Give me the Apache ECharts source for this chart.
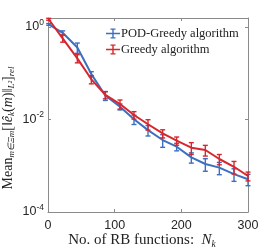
<!DOCTYPE html>
<html><head><meta charset="utf-8">
<script src="https://cdn.jsdelivr.net/npm/echarts@6/dist/echarts.min.js"></script>
<style>html,body{margin:0;padding:0;background:#fff}#c{width:274px;height:249px}</style>
</head><body><div id="c"></div>
<script>
const nRB = [1, 22, 44, 65, 86, 108, 129, 150, 172, 193, 215, 236, 257, 279, 300];
const podGreedy = [1.14, 0.75, 0.36, 0.096, 0.033, 0.0189, 0.0101, 0.0059, 0.0036, 0.00258, 0.00152, 0.00109, 0.00091, 0.00066, 0.00051];
const podGreedyErr = [0.05, 0.075, 0.09, 0.012, 0.0072, 0.0028, 0.0023, 0.0015, 0.0011, 0.00048, 0.00038, 0.00033, 0.00027, 0.0002, 0.00014];
const greedy = [1.47, 0.57, 0.21, 0.074, 0.034, 0.0216, 0.0125, 0.0079, 0.0050, 0.00348, 0.00246, 0.00219, 0.0014, 0.00095, 0.0006];
const greedyErr = [0.07, 0.10, 0.042, 0.015, 0.006, 0.0048, 0.0023, 0.002, 0.001, 0.0007, 0.0007, 0.00057, 0.00035, 0.00029, 0.00013];
const yTickExps = [-4, -2, 0];
const xTicks = [0, 100, 200, 300];

const BLUE = '#3c6fc0', RED = '#d7262d';
const L = v => Math.log10(v);
const lineData = vals => nRB.map((x, i) => [x, L(vals[i])]);
const errData = (vals, errs) => nRB.map((x, i) => [x, L(vals[i] - errs[i]), L(vals[i] + errs[i])]);
function errItem(color) {
  return function (params, api) {
    const x = api.value(0);
    const a = api.coord([x, api.value(1)]);
    const b = api.coord([x, api.value(2)]);
    const w = 2.5;
    const st = { stroke: color, lineWidth: 1.4 };
    return { type: 'group', children: [
      { type: 'line', shape: { x1: a[0], y1: a[1], x2: b[0], y2: b[1] }, style: st },
      { type: 'line', shape: { x1: a[0] - w, y1: a[1], x2: a[0] + w, y2: a[1] }, style: st },
      { type: 'line', shape: { x1: b[0] - w, y1: b[1], x2: b[0] + w, y2: b[1] }, style: st }
    ]};
  };
}
const serif = 'Liberation Serif';
const sans = 'Liberation Sans';
const axisCol = '#8a8a8a';
const txt = '#222';
const xNameRich = {
  it: { fontFamily: serif, fontStyle: 'italic', fontSize: 15, color: txt },
  sub: { fontFamily: serif, fontStyle: 'italic', fontSize: 9.5, color: txt, padding: [7, 0, 0, 0] }
};
const yNameRich = {
  it: { fontFamily: serif, fontStyle: 'italic', fontSize: 14, color: txt },
  sub: { fontFamily: serif, fontStyle: 'italic', fontSize: 9, color: txt, padding: [7, 0, 0, 0] }
};
const chart = echarts.init(document.getElementById('c'), null, { renderer: 'canvas' });
chart.setOption({
  animation: false,
  grid: { left: 48, right: 26, top: 18, bottom: 37, containLabel: false, outerBoundsMode: 'none' },
  legend: {
    data: ['POD-Greedy algorithm', 'Greedy algorithm'],
    orient: 'vertical', left: 101, top: 22,
    itemWidth: 14, itemHeight: 10, itemGap: 3,
    icon: 'path://M0,4.3H14V5.7H0Z M6.3,0H7.7V10H6.3Z M4.5,0H9.5V1.3H4.5Z M4.5,8.7H9.5V10H4.5Z',
    textStyle: { fontFamily: serif, fontSize: 12.5, color: txt, padding: [0, 0, 0, -4] }
  },
  xAxis: [{
    type: 'value', min: 0, max: 300, interval: 100,
    axisLine: { show: true, onZero: false, lineStyle: { color: axisCol, width: 1 } },
    axisTick: { show: true, inside: true, length: 3, lineStyle: { color: axisCol } },
    splitLine: { show: false },
    axisLabel: { fontFamily: sans, fontSize: 12.5, color: '#262626', margin: 7,
      formatter: v => xTicks.includes(v) ? String(v) : '' },
    name: 'No. of RB functions:  {it|N}{sub|k}', nameLocation: 'middle', nameGap: 20, nameMoveOverlap: false,
    nameTextStyle: { fontFamily: serif, fontSize: 15, color: txt, rich: xNameRich, padding: [0, 12, 0, 0] }
  }, {
    type: 'value', min: 0, max: 300, interval: 100, position: 'top',
    axisLine: { show: true, onZero: false, lineStyle: { color: axisCol, width: 1 } },
    axisTick: { show: true, inside: true, length: 3, lineStyle: { color: axisCol } },
    splitLine: { show: false }, axisLabel: { show: false }
  }],
  yAxis: [{
    type: 'value', min: -4, max: 0.195, interval: 2,
    axisLine: { show: true, onZero: false, lineStyle: { color: axisCol, width: 1 } },
    axisTick: { show: true, inside: true, length: 3, lineStyle: { color: axisCol } },
    splitLine: { show: false },
    axisLabel: { margin: 4, color: '#262626',
      formatter: v => yTickExps.includes(v) ? '{b|10}{s|' + v + '}' : '',
      rich: { b: { fontFamily: sans, fontSize: 12.5, color: '#262626' },
              s: { fontFamily: sans, fontSize: 8.5, color: '#262626', padding: [0, 0, 9, 0] } } },
    name: 'Mean{sub|m∈Ξm}[‖{it|ê}{sub|k}({it|m})‖{sub|L²}]{sub|rel}',
    nameLocation: 'middle', nameRotate: 90, nameGap: 32, nameMoveOverlap: false,
    nameTextStyle: { fontFamily: serif, fontSize: 14, color: txt, rich: yNameRich, padding: [0, 26, 0, 0] }
  }, {
    type: 'value', min: -4, max: 0.195, interval: 2, position: 'right',
    axisLine: { show: true, onZero: false, lineStyle: { color: axisCol, width: 1 } },
    axisTick: { show: true, inside: true, length: 3, lineStyle: { color: axisCol } },
    splitLine: { show: false }, axisLabel: { show: false }
  }],
  series: [
    { name: 'POD-Greedy algorithm', type: 'line', data: lineData(podGreedy), showSymbol: false, symbol: 'none',
      lineStyle: { color: BLUE, width: 2 }, itemStyle: { color: BLUE }, z: 2 },
    { type: 'custom', data: errData(podGreedy, podGreedyErr), renderItem: errItem(BLUE), z: 3, silent: true },
    { name: 'Greedy algorithm', type: 'line', data: lineData(greedy), showSymbol: false, symbol: 'none',
      lineStyle: { color: RED, width: 2 }, itemStyle: { color: RED }, z: 4 },
    { type: 'custom', data: errData(greedy, greedyErr), renderItem: errItem(RED), z: 5, silent: true }
  ]
});
</script></body></html>
